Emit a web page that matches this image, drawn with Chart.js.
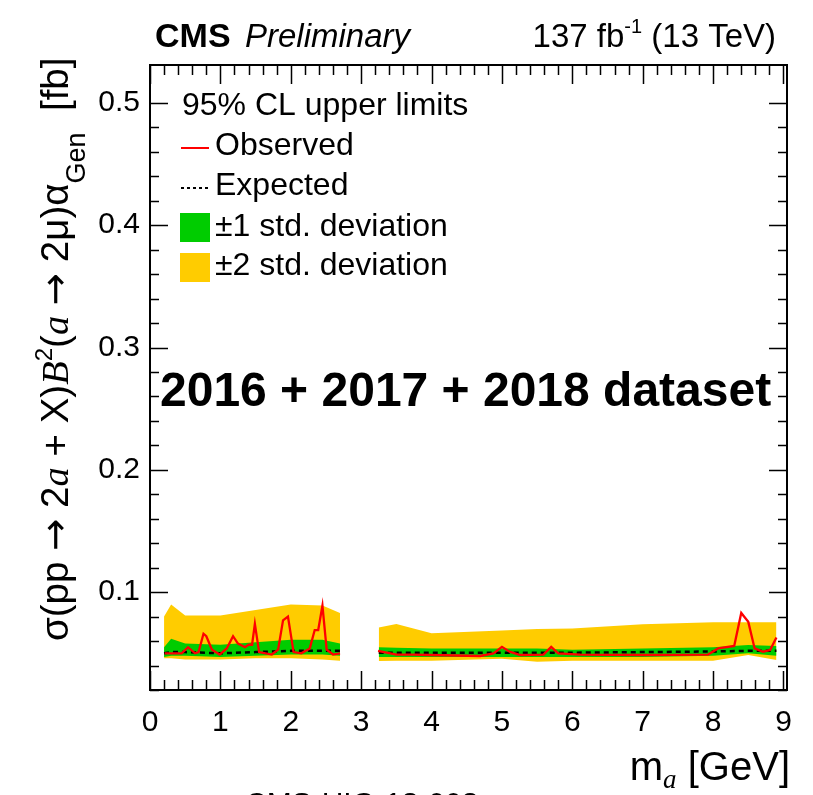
<!DOCTYPE html>
<html>
<head>
<meta charset="utf-8">
<title>CMS limits 2a -> 2mu</title>
<script src="https://cdn.jsdelivr.net/npm/chart.js@4.4.0/dist/chart.umd.min.js"></script>
<style>
  html, body { margin: 0; padding: 0; background: #fff; }
</style>
</head>
<body>
<canvas id="limits" width="813" height="795"></canvas>
<script>
// ── Data ──
// low-mass window
const bandMassLow = [0.2, 0.3, 0.5, 1.0, 1.5, 2.0, 2.45, 2.7];
const expLow      = [0.050, 0.051, 0.051, 0.050, 0.051, 0.052, 0.052, 0.052];
const sig1LoLow   = [0.047, 0.048, 0.048, 0.047, 0.048, 0.049, 0.049, 0.048];
const sig1HiLow   = [0.055, 0.062, 0.058, 0.057, 0.059, 0.061, 0.061, 0.058];
const sig2LoLow   = [0.046, 0.046, 0.045, 0.045, 0.046, 0.046, 0.045, 0.044];
const sig2HiLow   = [0.080, 0.090, 0.081, 0.081, 0.0855, 0.090, 0.089, 0.083];

const obsMassLow = [0.21, 0.35, 0.45, 0.54, 0.64, 0.69, 0.76, 0.80, 0.88, 0.99, 1.09, 1.18, 1.25, 1.35, 1.40, 1.45,
                    1.49, 1.55, 1.73, 1.82, 1.89, 1.96, 2.04, 2.15, 2.27, 2.34, 2.39, 2.45, 2.51, 2.60, 2.70];
const obsLow     = [0.050, 0.050, 0.050, 0.055, 0.050, 0.051, 0.066, 0.064, 0.053, 0.049, 0.054, 0.064, 0.058, 0.055, 0.057, 0.057,
                    0.074, 0.051, 0.049, 0.053, 0.077, 0.080, 0.051, 0.050, 0.054, 0.069, 0.069, 0.089, 0.053, 0.049, 0.050];

// high-mass window
const bandMassHigh = [3.25, 3.5, 4.0, 5.0, 5.5, 6.0, 7.0, 8.0, 8.5, 8.9];
const expHigh      = [0.0505, 0.0505, 0.0505, 0.0505, 0.0505, 0.0505, 0.051, 0.0515, 0.052, 0.052];
const sig1LoHigh   = [0.047, 0.047, 0.047, 0.047, 0.047, 0.047, 0.047, 0.048, 0.050, 0.048];
const sig1HiHigh   = [0.055, 0.0545, 0.054, 0.054, 0.054, 0.053, 0.054, 0.055, 0.0567, 0.056];
const sig2LoHigh   = [0.0437, 0.044, 0.044, 0.0455, 0.043, 0.044, 0.044, 0.044, 0.0486, 0.0445];
const sig2HiHigh   = [0.071, 0.074, 0.0665, 0.0686, 0.0698, 0.0703, 0.0737, 0.0753, 0.0753, 0.0753];

const obsMassHigh = [3.24, 3.5, 3.74, 3.98, 4.69, 4.88, 5.0, 5.11, 5.26, 5.59, 5.70, 5.80, 6.11, 6.98, 7.93,
                     8.07, 8.30, 8.40, 8.50, 8.59, 8.71, 8.81, 8.90];
const obsHigh     = [0.052, 0.049, 0.049, 0.0486, 0.0478, 0.050, 0.0553, 0.0513, 0.0486, 0.049, 0.0553, 0.050, 0.049, 0.0486, 0.049,
                     0.054, 0.056, 0.083, 0.0757, 0.054, 0.0513, 0.0527, 0.063];

const xTicks = [0, 1, 2, 3, 4, 5, 6, 7, 8, 9];
const yTicks = [0.1, 0.2, 0.3, 0.4, 0.5];

const YELLOW = "#ffcc00";
const GREEN = "#00cc00";
const RED = "#ff0000";
const FONT = "'Liberation Sans', Arial, Helvetica, sans-serif";
const SERIF = "'Liberation Serif', 'Times New Roman', serif";
const SYM = "'DejaVu Sans', sans-serif";

function pts(xs, ys) {
    return xs.map(function (x, i) { return { x: x, y: ys[i] }; });
}

function edge(xs, ys, order) {
    return { data: pts(xs, ys), borderWidth: 0, borderColor: "rgba(0,0,0,0)", pointRadius: 0, fill: false, order: order };
}

function filled(xs, ys, target, color, order) {
    return { data: pts(xs, ys), borderWidth: 0, borderColor: "rgba(0,0,0,0)", pointRadius: 0,
             fill: target, backgroundColor: color, order: order };
}

function curve(xs, ys, color, width, dash, order) {
    return { data: pts(xs, ys), borderColor: color, borderWidth: width, borderDash: dash,
             pointRadius: 0, fill: false, tension: 0, order: order };
}

const datasets = [
    curve(obsMassLow, obsLow, RED, 2.3, [], 1),               // 0
    curve(obsMassHigh, obsHigh, RED, 2.3, [], 1),             // 1
    curve(bandMassLow, expLow, "#000", 2.5, [5, 4], 2),       // 2
    curve(bandMassHigh, expHigh, "#000", 2.5, [5, 4], 2),     // 3
    edge(bandMassLow, sig1LoLow, 3),                          // 4
    filled(bandMassLow, sig1HiLow, 4, GREEN, 3),              // 5
    edge(bandMassHigh, sig1LoHigh, 3),                        // 6
    filled(bandMassHigh, sig1HiHigh, 6, GREEN, 3),            // 7
    edge(bandMassLow, sig2LoLow, 4),                          // 8
    filled(bandMassLow, sig2HiLow, 8, YELLOW, 4),             // 9
    edge(bandMassHigh, sig2LoHigh, 4),                        // 10
    filled(bandMassHigh, sig2HiHigh, 10, YELLOW, 4)           // 11
];

// ── rich text helper (segments with font + vertical shift) ──
function richWidth(ctx, segs) {
    var w = 0;
    segs.forEach(function (s) { ctx.font = s.font; w += ctx.measureText(s.t).width; });
    return w;
}
function drawRich(ctx, segs, x, y) {
    segs.forEach(function (s) {
        ctx.font = s.font;
        ctx.fillText(s.t, x, y + (s.dy || 0));
        x += ctx.measureText(s.t).width;
    });
}

// ── Frame, inward ticks, texts ──
const decorations = {
    id: "decorations",
    afterDraw: function (chart) {
        var ctx = chart.ctx;
        var a = chart.chartArea;
        var xs = chart.scales.x, ys = chart.scales.y;
        ctx.save();
        ctx.strokeStyle = "#000";
        ctx.fillStyle = "#000";

        // ticks on all four sides
        ctx.lineWidth = 1.5;
        ctx.beginPath();
        for (var v = 0; v <= 9.0001; v += 0.2) {
            var major = Math.abs(v - Math.round(v)) < 1e-6;
            var len = major ? 19 : 10;
            var px = Math.round(xs.getPixelForValue(v)) + 0.5;
            ctx.moveTo(px, a.bottom); ctx.lineTo(px, a.bottom - len);
            ctx.moveTo(px, a.top); ctx.lineTo(px, a.top + len);
        }
        for (var k = 1; k <= 25; k++) {
            var yv = k * 0.02;
            var maj = k % 5 === 0;
            var l = maj ? 18 : 9;
            var py = Math.round(ys.getPixelForValue(yv)) + 0.5;
            ctx.moveTo(a.left, py); ctx.lineTo(a.left + l, py);
            ctx.moveTo(a.right, py); ctx.lineTo(a.right - l, py);
        }
        ctx.stroke();

        // frame
        ctx.lineWidth = 2;
        ctx.strokeRect(a.left, a.top, a.right - a.left, a.bottom - a.top);

        // header
        ctx.textBaseline = "alphabetic";
        ctx.textAlign = "left";
        ctx.font = "bold 34px " + FONT;
        ctx.fillText("CMS", 155, 47);
        ctx.font = "italic 33px " + FONT;
        ctx.fillText("Preliminary", 245, 47);
        var lumi = [
            { t: "137 fb", font: "33px " + FONT },
            { t: "-1", font: "20px " + FONT, dy: -14 },
            { t: " (13 TeV)", font: "33px " + FONT }
        ];
        drawRich(ctx, lumi, 776 - richWidth(ctx, lumi), 47);

        // legend
        ctx.font = "32px " + FONT;
        ctx.fillText("95% CL upper limits", 182, 115);
        ctx.fillText("Observed", 215, 155);
        ctx.fillText("Expected", 215, 195);
        ctx.fillText("\u00b11 std. deviation", 215, 236);
        ctx.fillText("\u00b12 std. deviation", 215, 275);
        ctx.strokeStyle = RED;
        ctx.lineWidth = 2;
        ctx.beginPath(); ctx.moveTo(181, 148); ctx.lineTo(209, 148); ctx.stroke();
        ctx.strokeStyle = "#000";
        ctx.setLineDash([3, 3]);
        ctx.beginPath(); ctx.moveTo(181, 188); ctx.lineTo(209, 188); ctx.stroke();
        ctx.setLineDash([]);
        ctx.fillStyle = GREEN;
        ctx.fillRect(180, 213, 30, 29);
        ctx.fillStyle = YELLOW;
        ctx.fillRect(180, 253, 30, 29);

        // dataset label
        ctx.fillStyle = "#000";
        ctx.font = "bold 48px " + FONT;
        ctx.fillText("2016 + 2017 + 2018 dataset", 160, 406);

        // x title
        var xt = [
            { t: "m", font: "40px " + FONT },
            { t: "a", font: "italic 27px " + SERIF, dy: 8 },
            { t: " [GeV]", font: "40px " + FONT }
        ];
        drawRich(ctx, xt, 790 - richWidth(ctx, xt), 780);

        // y title (rotated)
        var base = 30;
        var yt = function (s) {
            var n = s + "px " + FONT, it = "italic " + s + "px " + SERIF, ar = s + "px " + SYM;
            return [
                { t: "\u03c3(pp ", font: n },
                { t: "\u2192", font: ar },
                { t: " 2", font: n },
                { t: "a", font: it },
                { t: " + X)", font: n },
                { t: "B", font: it },
                { t: "2", font: Math.round(s * 0.62) + "px " + FONT, dy: -s * 0.42 },
                { t: "(", font: n },
                { t: "a", font: it },
                { t: " ", font: n },
                { t: "\u2192", font: ar },
                { t: " 2\u03bc)\u03b1", font: n },
                { t: "Gen", font: Math.round(s * 0.7) + "px " + FONT, dy: s * 0.45 },
                { t: "  [fb]", font: n }
            ];
        };
        var segs = yt(base);
        var w = richWidth(ctx, segs);
        var s2 = base * 584 / w;
        segs = yt(s2);
        ctx.translate(68, 641);
        ctx.rotate(-Math.PI / 2);
        drawRich(ctx, segs, 0, 0);
        ctx.restore();

        // report number, cut off at the bottom edge
        ctx.save();
        ctx.fillStyle = "#000";
        ctx.font = "30px " + FONT;
        ctx.fillText("CMS-HIG-18-003", 245, 813);
        ctx.restore();
    }
};

new Chart(document.getElementById("limits"), {
    type: "line",
    data: { datasets: datasets },
    options: {
        responsive: false,
        animation: false,
        layout: { padding: { left: 0, top: 65, right: 26, bottom: 0 } },
        plugins: {
            legend: { display: false },
            tooltip: { enabled: false },
            filler: { propagate: false }
        },
        elements: { line: { tension: 0 } },
        scales: {
            x: {
                type: "linear",
                min: 0,
                max: 9.05,
                afterBuildTicks: function (s) { s.ticks = xTicks.map(function (v) { return { value: v }; }); },
                afterFit: function (s) { s.height = 105; },
                grid: { display: false, drawTicks: false },
                border: { display: false },
                ticks: {
                    color: "#000",
                    padding: 15,
                    maxRotation: 0,
                    autoSkip: false,
                    font: { family: FONT, size: 30 },
                    callback: function (v) { return String(v); }
                }
            },
            y: {
                type: "linear",
                min: 0.02,
                max: 0.531,
                afterBuildTicks: function (s) { s.ticks = yTicks.map(function (v) { return { value: v }; }); },
                afterFit: function (s) { s.width = 150; },
                grid: { display: false, drawTicks: false },
                border: { display: false },
                ticks: {
                    color: "#000",
                    padding: 10,
                    autoSkip: false,
                    font: { family: FONT, size: 30 },
                    callback: function (v) { return v.toFixed(1); }
                }
            }
        }
    },
    plugins: [decorations]
});
</script>
</body>
</html>
